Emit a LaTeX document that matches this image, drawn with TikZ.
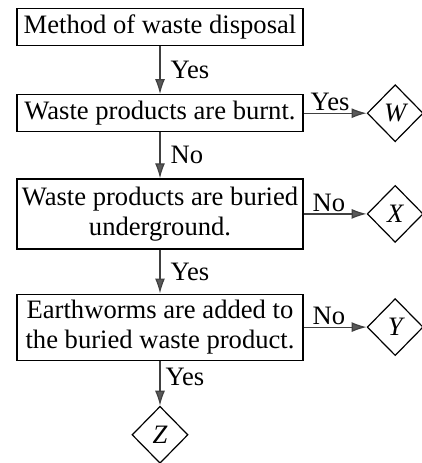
\documentclass[tikz,border=0pt]{standalone}
\usepackage{fontspec}
\setmainfont{Liberation Serif}
\usepackage{tikz}
\usetikzlibrary{shapes,arrows.meta,positioning}

\begin{document}
\begin{tikzpicture}[x=1pt, y=1pt, font=\fontsize{26.6}{30}\selectfont,
    box/.style = {draw, line width=1.2pt, align=center, minimum width=286pt, minimum height=37pt, inner sep=2pt},
    dia/.style = {draw, line width=1.2pt, diamond, minimum width=56pt, minimum height=57pt, inner sep=0pt, font=\fontsize{26.6}{30}\selectfont\itshape},
    arr/.style = {draw=black!75, line width=1.2pt, -{Latex[length=15pt, width=10pt, fill=black!65]}},
    lbl/.style = {inner sep=2pt}]
  \useasboundingbox (0,0) rectangle (422,-463);
  \node[box] (method) at (160,-27) {Method of waste disposal};
  \node[box, below=48pt of method] (burnt) {Waste products are burnt.};
  \node[box, below=46pt of burnt, minimum height=70pt] (buried) {Waste products are buried\\underground.};
  \node[box, below=44pt of buried, minimum height=66pt] (worms) {Earthworms are added to\\the buried waste product.};
  \node[dia, right=63pt of burnt] (W) {W};
  \node[dia, right=63pt of buried] (X) {X};
  \node[dia, right=63pt of worms] (Y) {Y};
  \node[dia, below=45pt of worms] (Z) {Z};
  % vertical flow
  \draw[arr] (method) -- node[lbl, right=8pt] (yes1) {Yes} (burnt);
  \draw[arr] (burnt) -- node[lbl, right=8pt] (no1) {No} (buried);
  \draw[arr] (buried) -- node[lbl, right=8pt] (yes2) {Yes} (worms);
  \draw[arr] (worms) -- node[lbl, right=3pt, pos=0.35] (yes3) {Yes} (Z);
  % side branches
  \draw[arr] (burnt) -- node[lbl, above, pos=0.42] (yes4) {Yes} (W);
  \draw[arr] (buried) -- node[lbl, above, pos=0.4] (no2) {No} (X);
  \draw[arr] (worms) -- node[lbl, above, pos=0.4] (no3) {No} (Y);
\end{tikzpicture}
\end{document}
